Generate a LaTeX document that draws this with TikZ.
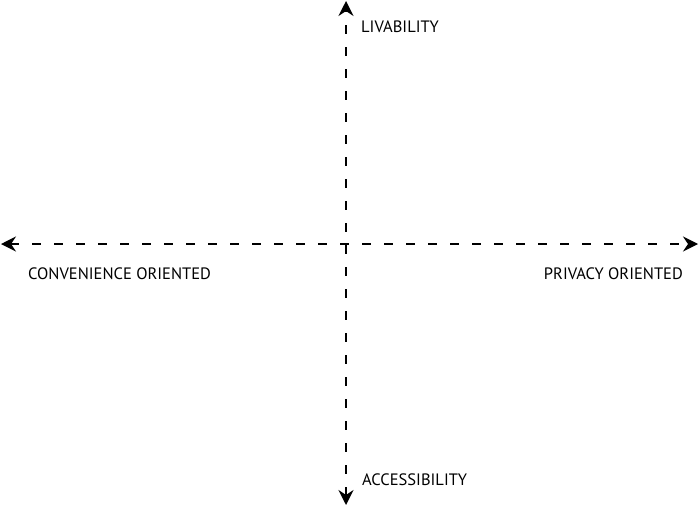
\documentclass[tikz,border=0pt]{standalone}
\usepackage{fontspec}
\setmainfont{PT Sans}
\usetikzlibrary{arrows.meta}

\begin{document}
\begin{tikzpicture}[x=1pt,y=-1pt]
                        \tikzstyle{axis}=[line width=1.8pt, dash pattern=on 9pt off 13pt, {Stealth[length=15pt,width=15pt,inset=5pt]}-{Stealth[length=15pt,width=15pt,inset=5pt]}]
                        \tikzstyle{label}=[inner sep=0pt, font=\fontsize{16.5}{19}\selectfont]
                        \useasboundingbox (0,0) rectangle (700,506);
                        % axis ends
                        \coordinate (top) at (346,1);
                        \coordinate (bottom) at (346,505);
                        \coordinate (left) at (1,244);
                        \coordinate (right) at (698,244);
                        \draw[axis] (bottom) -- (top);
                        \draw[axis] (left) -- (right);
                        % labels
                        \node[label, anchor=west] (livability) at (361,27) {LIVABILITY};
                        \node[label, anchor=west] (accessibility) at (362,480) {ACCESSIBILITY};
                        \node[label, anchor=west] (convenience) at (28,274) {CONVENIENCE ORIENTED};
                        \node[label, anchor=east] (privacy) at (683,274) {PRIVACY ORIENTED};
                    \end{tikzpicture}
\end{document}
